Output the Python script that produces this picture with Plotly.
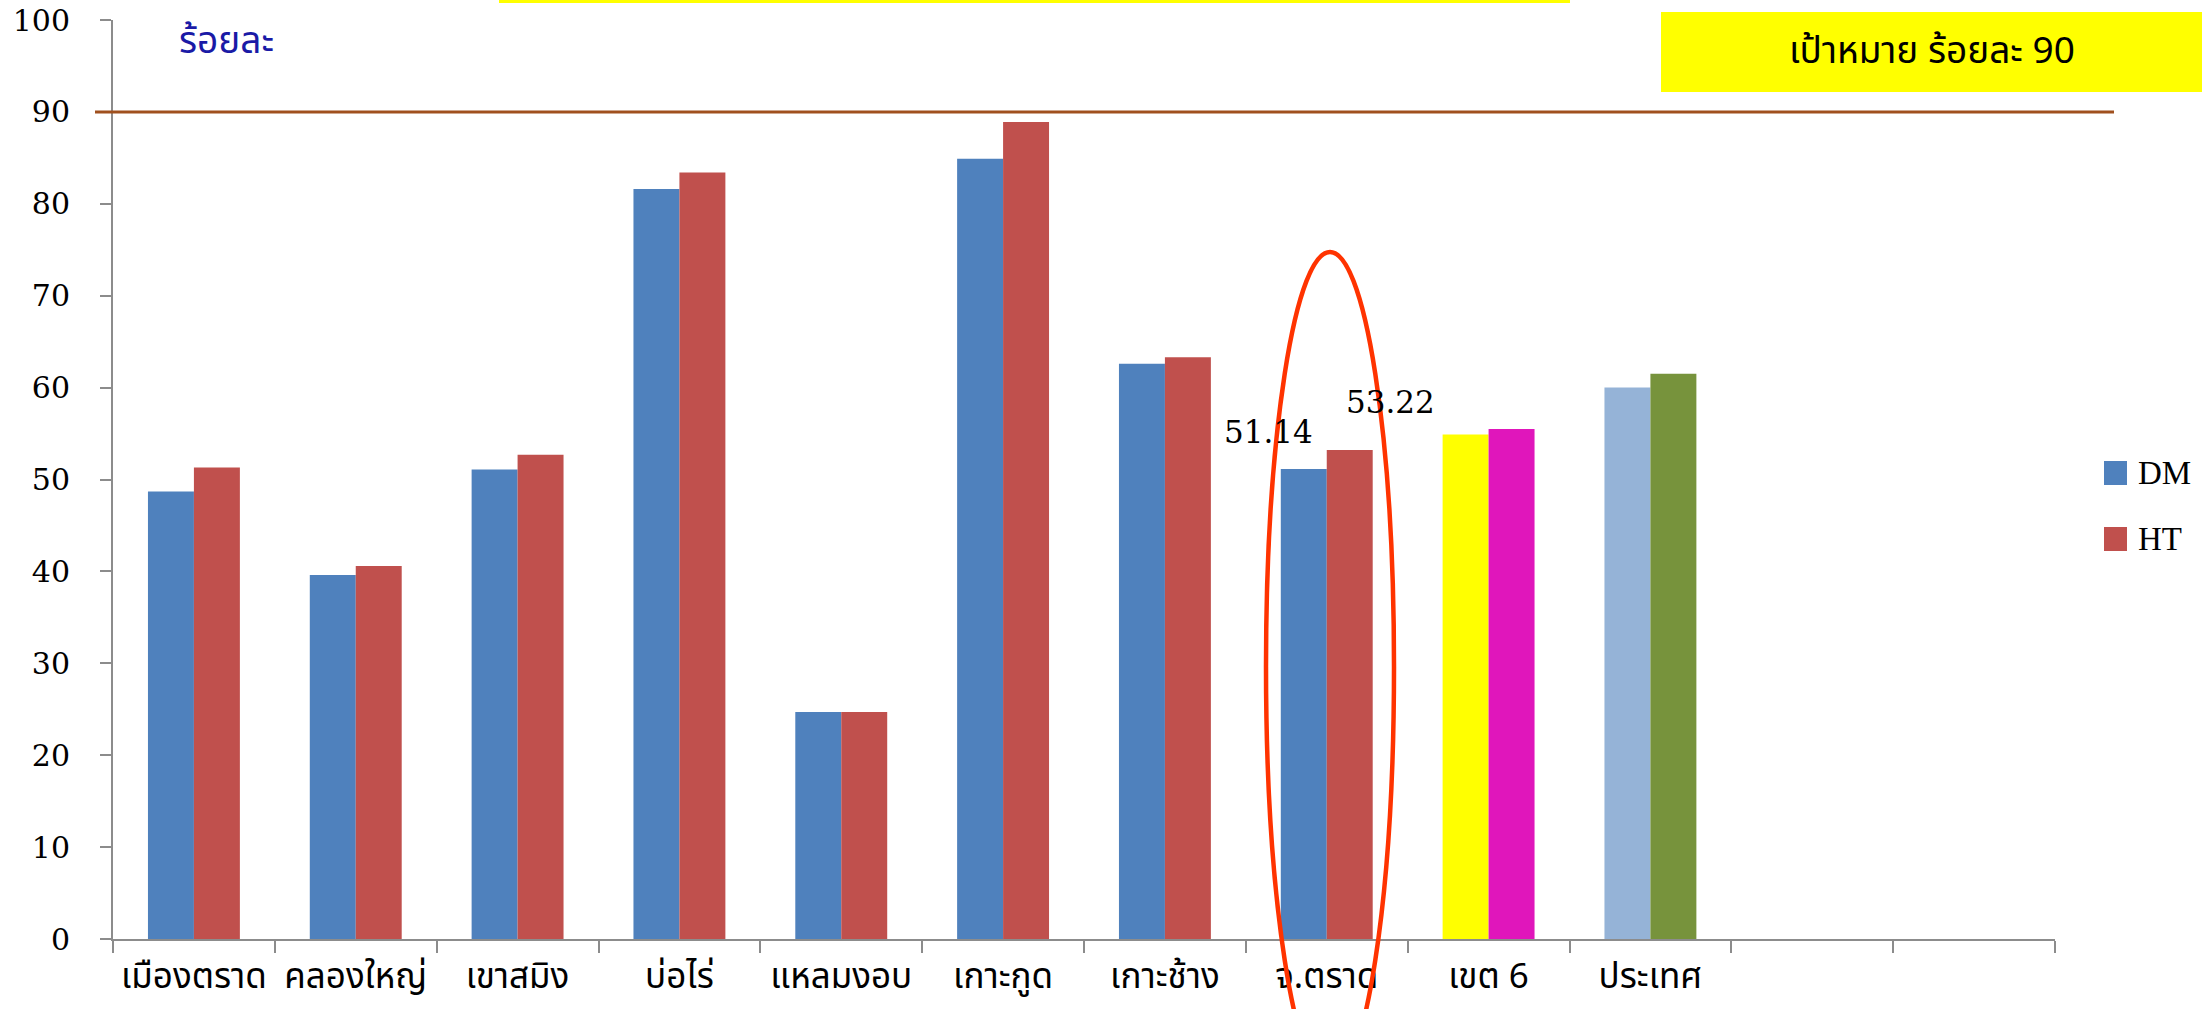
import plotly.graph_objects as go

# ---- data -------------------------------------------------------------
categories = ["เมืองตราด", "คลองใหญ่", "เขาสมิง", "บ่อไร่", "แหลมงอบ",
              "เกาะกูด", "เกาะช้าง", "จ.ตราด", "เขต 6", "ประเทศ"]
empty_slots = [" ", "  "]          # two unused category slots at the right
dm_values = [48.7, 39.6, 51.1, 81.6, 24.7, 84.9, 62.6, 51.14, 54.9, 60.0]
ht_values = [51.3, 40.6, 52.7, 83.4, 24.7, 88.9, 63.3, 53.22, 55.5, 61.5]
target = 90
y_ticks = list(range(0, 101, 10))
highlight = "จ.ตราด"

# ---- colours ----------------------------------------------------------
DM_BLUE = "#4F81BD"
HT_RED = "#C0504D"
dm_colors = [DM_BLUE] * 8 + ["#FFFF00", "#95B3D7"]
ht_colors = [HT_RED] * 8 + ["#E016BB", "#77933C"]

W, H = 2202, 1009
L, R, T, B = 113, 147, 20, 70
PW, PH = W - L - R, H - T - B


def px_x(px):
    return (px - L) / PW


def px_y(py):
    return (H - B - py) / PH


fig = go.Figure()
fig.add_trace(go.Bar(x=categories, y=dm_values, name="DM",
                     marker=dict(color=dm_colors, line=dict(width=0))))
fig.add_trace(go.Bar(x=categories, y=ht_values, name="HT",
                     marker=dict(color=ht_colors, line=dict(width=0))))

THAI = "Tahoma, 'Noto Sans Thai', 'Noto Sans', sans-serif"
NUM = "'DejaVu Serif', serif"

fig.update_layout(
    width=W, height=H,
    margin=dict(l=L, r=R, t=T, b=B, autoexpand=False),
    paper_bgcolor="white", plot_bgcolor="white",
    barmode="group", bargap=0.432, bargroupgap=0,
    showlegend=False,
    xaxis=dict(
        type="category",
        categoryorder="array",
        categoryarray=categories + empty_slots,
        range=[-0.5, len(categories) + len(empty_slots) - 0.5],
        tickson="boundaries", ticks="outside", ticklen=12, tickwidth=2,
        tickcolor="#8C8C8C", tickangle=0,
        showline=True, linecolor="#8C8C8C", linewidth=2,
        showgrid=False, zeroline=False, automargin=False,
        tickfont=dict(family=THAI, size=35, color="black"),
        ticklabelstandoff=5,
    ),
    yaxis=dict(
        range=[0, 100], tickvals=y_ticks,
        ticks="outside", ticklen=11, tickwidth=2, tickcolor="#8C8C8C",
        showline=True, linecolor="#8C8C8C", linewidth=2,
        showgrid=False, zeroline=False, automargin=False,
        tickfont=dict(family=NUM, size=30, color="black"),
        ticklabelstandoff=24,
    ),
)

# target reference line
fig.add_shape(type="line", xref="paper", yref="y",
              x0=px_x(95), x1=px_x(2114), y0=target, y1=target,
              line=dict(color="#A0501E", width=3))

# target box (top right) and yellow strip at the top edge
fig.add_shape(type="rect", xref="paper", yref="paper",
              x0=px_x(1661), x1=px_x(2202), y0=px_y(92), y1=px_y(12),
              fillcolor="#FFFF00", line=dict(width=0))
fig.add_annotation(xref="paper", yref="paper", x=px_x(1932), y=px_y(52),
                   xanchor="center", yanchor="middle",
                   text=f"เป้าหมาย ร้อยละ {target}", showarrow=False,
                   font=dict(family=THAI, size=37, color="black"))
fig.add_shape(type="rect", xref="paper", yref="paper",
              x0=px_x(499), x1=px_x(1570), y0=px_y(3), y1=px_y(0),
              fillcolor="#FFFF00", line=dict(width=0))

# unit caption
fig.add_annotation(xref="paper", yref="paper", x=px_x(226), y=px_y(42),
                   xanchor="center", yanchor="middle",
                   text="ร้อยละ", showarrow=False,
                   font=dict(family=THAI, size=37, color="#1A1AA6"))

# value labels on the highlighted province
idx = categories.index(highlight)
fig.add_annotation(x=highlight, y=dm_values[idx], text=f"{dm_values[idx]:.2f}",
                   showarrow=False, xanchor="center", yanchor="middle",
                   xshift=-58, yshift=37,
                   font=dict(family=NUM, size=31, color="black"))
fig.add_annotation(x=highlight, y=ht_values[idx], text=f"{ht_values[idx]:.2f}",
                   showarrow=False, xanchor="center", yanchor="middle",
                   xshift=64, yshift=48,
                   font=dict(family=NUM, size=31, color="black"))

# red ellipse marking the province
fig.add_shape(type="circle", xref="paper", yref="paper",
              x0=px_x(1266), x1=px_x(1394), y0=px_y(1082), y1=px_y(252),
              line=dict(color="#FF3300", width=4.5), fillcolor="rgba(0,0,0,0)")

# legend
for name, color, cy in (("DM", DM_BLUE, 473), ("HT", HT_RED, 539)):
    fig.add_shape(type="rect", xref="paper", yref="paper",
                  x0=px_x(2104), x1=px_x(2127), y0=px_y(cy + 12), y1=px_y(cy - 12),
                  fillcolor=color, line=dict(width=0))
    fig.add_annotation(xref="paper", yref="paper", x=px_x(2136), y=px_y(cy),
                       xanchor="left", yanchor="middle", text=name, showarrow=False,
                       font=dict(family="'Liberation Serif', serif", size=33, color="black"))

fig.write_html("out.html")
